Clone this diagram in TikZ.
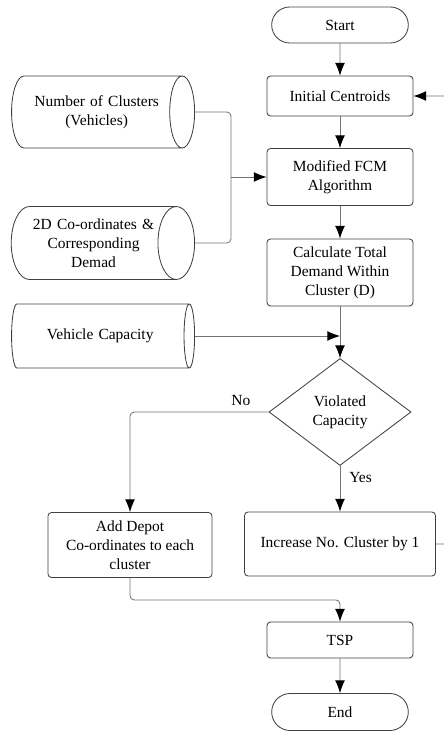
\documentclass[tikz,border=0pt]{standalone}
\usepackage{fontspec}
\setmainfont{Liberation Serif}
\usetikzlibrary{shapes.geometric,shapes.misc,arrows.meta}
\begin{document}
\begin{tikzpicture}[
	font=\fontsize{11}{13.5}\selectfont,
	process/.style={draw=black!75, line width=0.6pt, rounded corners=2.5pt, align=center, minimum width=3.65cm, inner sep=2pt},
	terminal/.style={draw=black!75, line width=0.6pt, rounded rectangle, minimum width=3.65cm, minimum height=0.9cm},
	store/.style={draw=black!75, line width=0.6pt, cylinder, aspect=0.75, minimum height=4.575cm, text width=3.2cm, align=center, inner sep=0pt, anchor=east},
	decision/.style={draw=black!75, line width=0.6pt, diamond, aspect=1.33, align=center, inner sep=0pt, minimum width=3.55cm, minimum height=2.675cm},
	line/.style={draw=black!55, line width=0.6pt, rounded corners=3pt, -{Latex[length=9pt,width=7pt,black]}}
]

\def \colx {8.5} % x of the main column
\def \storex {4.875} % right end of the input stores

\useasboundingbox (0,0) rectangle (11.1,-18.275);
\clip (0,0) rectangle (11.1,-18.275);

% main column
\node[terminal] (start) at (\colx,-0.625) {Start};
\node[process, minimum height=1cm] (init) at (\colx,-2.4) {Initial Centroids};
\node[process, minimum height=1.425cm] (fcm) at (\colx,-4.425) {Modified FCM\\Algorithm};
\node[process, minimum height=1.675cm] (calc) at (\colx,-6.8125) {Calculate Total\\Demand Within\\Cluster (D)};
\node[decision] (viol) at (\colx,-10.3) {Violated\\Capacity};
\node[process, minimum width=4.775cm, minimum height=1.6cm] (inc) at (\colx,-13.6) {Increase No. Cluster by 1};
\node[process, minimum height=0.9cm] (tsp) at (\colx,-16) {TSP};
\node[terminal, minimum height=0.925cm] (end) at (\colx,-17.8) {End};

% inputs
\node[store, minimum width=1.8cm] (nclus) at (\storex,-2.8) {Number of Clusters\\(Vehicles)};
\node[store, minimum width=1.825cm] (coords) at (\storex,-6.075) {2D Co-ordinates \&\\Corresponding\\Demad};
\node[store, minimum width=1.6cm] (vcap) at (\storex,-8.4) {Vehicle Capacity};

\node[process, minimum width=4.1cm, minimum height=1.625cm] (depot) at (3.25,-13.625) {Add Depot\\Co-ordinates to each\\cluster};

\coordinate (join) at (5.775,-4.425);
\coordinate (meet) at (\colx,-8.4);

\draw[line] (start) -- (init);
\draw[line] (init) -- (fcm);
\draw[line] (fcm) -- (calc);
\draw[draw=black!55, line width=0.6pt] (calc) -- (meet);
\draw[line] (meet) -- (viol);
\draw[line] (vcap.east) -- (meet);
\draw[draw=black!55, line width=0.6pt, rounded corners=3pt] (nclus.east) -| (join);
\draw[draw=black!55, line width=0.6pt, rounded corners=3pt] (coords.east) -| (join);
\draw[line] (join) -- (fcm);
\draw[line] (viol.west) -| node[pos=0.1, above=1pt] {No} (depot.north);
\draw[line] (viol.south) -- node[pos=0.25, right=3pt] {Yes} (inc.north);
\draw[line] (depot.south) -- ++(0,-0.55) -| (tsp.north);
\draw[line] (tsp) -- (end);
\draw[line] (inc.east) -- ++(0.5,0) |- (init.east);
\end{tikzpicture}
\end{document}
